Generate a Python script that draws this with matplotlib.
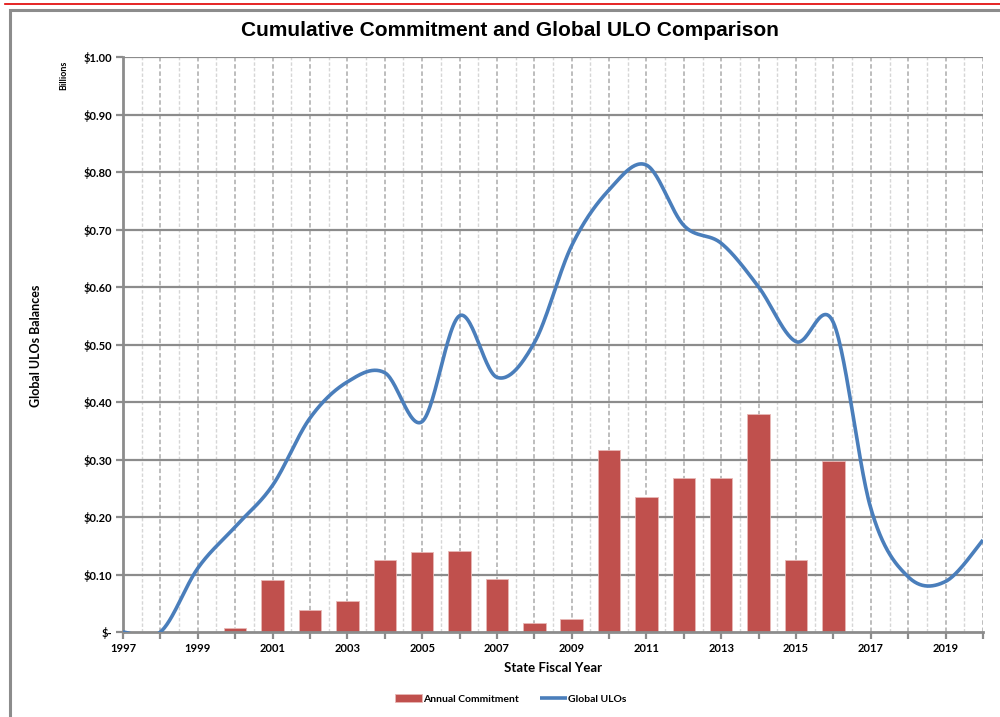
import matplotlib
matplotlib.use("Agg")
import matplotlib.pyplot as plt
import numpy as np
from matplotlib.patches import Rectangle
from matplotlib.lines import Line2D

years = np.arange(1997, 2021)
ulo = [0.0, 0.0, 0.111, 0.183, 0.255, 0.372, 0.435, 0.451, 0.366, 0.55, 0.443, 0.503,
       0.672, 0.769, 0.812, 0.707, 0.676, 0.60, 0.505, 0.538, 0.215, 0.096, 0.088, 0.16]
bar_years = np.arange(2000, 2017)
commit = [0.0075, 0.090, 0.039, 0.054, 0.125, 0.14, 0.141, 0.092, 0.015, 0.023,
          0.317, 0.235, 0.268, 0.268, 0.38, 0.125, 0.297]
ytick_vals = np.arange(0, 1.01, 0.1)
ytick_labels = ['$-'] + ['$%.2f' % v for v in ytick_vals[1:]]


# excel-like smoothed line (bezier with 1/6 tangents)
def smooth(x, y, n=30):
    x = np.asarray(x, float)
    y = np.asarray(y, float)
    xs, ys = [], []
    for i in range(len(x) - 1):
        i0 = max(i - 1, 0)
        i3 = min(i + 2, len(x) - 1)
        p0 = np.array([x[i], y[i]])
        p3 = np.array([x[i + 1], y[i + 1]])
        c1 = p0 + (np.array([x[i + 1], y[i + 1]]) - np.array([x[i0], y[i0]])) / 6
        c2 = p3 - (np.array([x[i3], y[i3]]) - np.array([x[i], y[i]])) / 6
        t = np.linspace(0, 1, n)[:, None]
        pts = (1 - t) ** 3 * p0 + 3 * (1 - t) ** 2 * t * c1 + 3 * (1 - t) * t ** 2 * c2 + t ** 3 * p3
        xs.extend(pts[:, 0])
        ys.extend(pts[:, 1])
    return np.array(xs), np.array(ys)


plt.rcParams['font.family'] = ['Lato', 'DejaVu Sans']
fig = plt.figure(figsize=(10, 7.17), dpi=100)

# page decorations: red rule and grey chart frame
fig.add_artist(Line2D([0.005, 1.0], [0.9944, 0.9944], color='#e00000', lw=1.2))
fig.add_artist(Rectangle((0.010, -0.05), 1.1, 1.036, fill=False, edgecolor='#8c8c8c', lw=2.2))

ax = fig.add_axes([0.123, 0.1185, 0.860, 0.802])

for xv in np.arange(1997.5, 2020, 1.0):
    ax.axvline(xv, color='#d6d6d6', lw=1.0, ls=(0, (2.5, 1.5)), zorder=0)
for xv in np.arange(1998, 2021, 1.0):
    ax.axvline(xv, color='#b8b8b8', lw=1.3, ls=(0, (2.5, 1.5)), zorder=0)
for yv in ytick_vals[1:]:
    ax.axhline(yv, color='#8c8c8c', lw=1.6, zorder=0.5)

bars = ax.bar(bar_years, commit, width=0.6, color='#C0504D', edgecolor='#e8b8b6', lw=0.6,
              zorder=2, label='Annual Commitment')
sx, sy = smooth(years, ulo)
line, = ax.plot(sx, sy, color='#4A7EBB', lw=2.6, zorder=3, label='Global ULOs',
                solid_capstyle='butt')

ax.set_xlim(1997, 2020)
ax.set_ylim(0, 1.0)
ax.set_yticks(ytick_vals)
ax.set_yticklabels(ytick_labels, fontsize=8, fontweight='bold')
ax.set_xticks(np.arange(1997, 2021))
ax.set_xticklabels([str(y) if y % 2 == 1 else '' for y in range(1997, 2021)],
                   fontsize=8, fontweight='bold')
ax.tick_params(axis='both', direction='out', length=5, width=1.6, color='#8c8c8c', pad=3)

for s in ['top', 'right']:
    ax.spines[s].set_visible(False)
for s in ['left', 'bottom']:
    ax.spines[s].set_color('#8c8c8c')
    ax.spines[s].set_linewidth(2)

ax.set_xlabel('State Fiscal Year', fontsize=9.5, fontweight='bold', labelpad=6)
fig.text(0.036, 0.518, 'Global ULOs Balances', rotation=90, ha='center', va='center',
         fontsize=9, fontweight='bold')
fig.text(0.064, 0.895, 'Billions', rotation=90, ha='center', va='center',
         fontsize=6.5, fontweight='bold')
fig.text(0.510, 0.957, 'Cumulative Commitment and Global ULO Comparison', ha='center',
         va='center', fontsize=15, fontweight='bold', family='Liberation Sans')

fig.legend([bars, line], ['Annual Commitment', 'Global ULOs'], loc='center',
           bbox_to_anchor=(0.511, 0.025), ncol=2, frameon=False,
           prop={'size': 7.5, 'weight': 'bold'}, handlelength=2.6, handletextpad=0.1,
           columnspacing=2.0)

fig.savefig('out.png', dpi=100)
